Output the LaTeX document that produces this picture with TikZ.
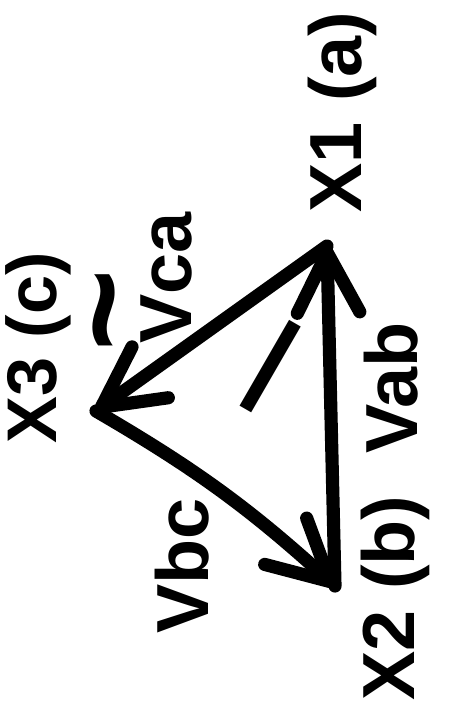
\documentclass[tikz,border=0pt]{standalone}
\usepackage{fontspec}
\setmainfont{Liberation Sans}
\usetikzlibrary{arrows.meta}

\begin{document}
\begin{tikzpicture}[
    x=0.02cm, y=-0.02cm,
    edge/.style={line width=7.5pt, line cap=round, line join=round, -{Straight Barb[length=1.2cm, width=1.25cm, round]}},
    lbl/.style={rotate=90, inner sep=0pt, font=\fontsize{42}{46}\selectfont\bfseries}
  ]
  \useasboundingbox (0,0) rectangle (449,708);
  % corners
  \coordinate (x1) at (327,246);
  \coordinate (x2) at (335,586);
  \coordinate (x3) at (96,411);
  \draw[edge] (x1) -- (x3);
  \draw[edge] (x3) to[bend left=6] (x2);
  \draw[edge] (x2) -- (x1);
  % names of the corners
  \node[lbl] (namea) at (342,112) {X1 (a)};
  \node[lbl, font=\fontsize{40}{44}\selectfont\bfseries] (namec) at (38,348) {X3 (c)};
  \node[lbl] (nameb) at (395,598) {X2 (b)};
  % voltages
  \node[lbl] (vab) at (391,388) {Vab};
  \node[lbl] (vca) at (166,278) {Vca};
  \node[lbl] (vbc) at (182,566) {Vbc};
  \node[lbl, font=\fontsize{80}{80}\selectfont\bfseries] (tilde) at (122,310) {\char"7E};
  % loop current
  \node[rotate=-30, inner sep=0pt, font=\fontsize{82}{82}\selectfont] (cur) at (271,367) {I};
\end{tikzpicture}
\end{document}
